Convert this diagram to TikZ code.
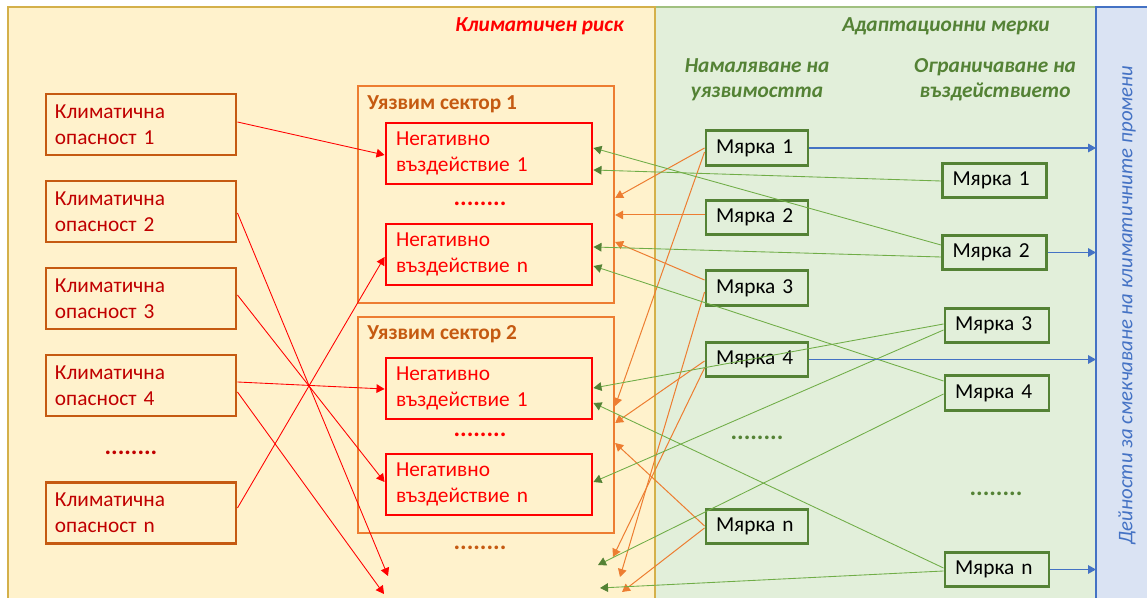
\documentclass[tikz,border=0pt]{standalone}
\usepackage{fontspec}
\setmainfont{Carlito}
\usetikzlibrary{arrows.meta,calc}
\definecolor{ybg}{HTML}{FFF2CC}
\definecolor{yln}{HTML}{D4B04A}
\definecolor{gbg}{HTML}{E2EFDA}
\definecolor{gln}{HTML}{A0C080}
\definecolor{bbg}{HTML}{DAE3F3}
\definecolor{bln}{HTML}{4472C4}
\definecolor{dred}{HTML}{C00000}
\definecolor{brn}{HTML}{C55A11}
\definecolor{orn}{HTML}{ED7D31}
\definecolor{dgrn}{HTML}{548235}
\definecolor{lgrn}{HTML}{70AD47}
\definecolor{cred}{HTML}{FF0000}
\tikzset{
  bodyfont/.style={font=\fontsize{16}{19.5}\selectfont},
  hazard/.style={draw=brn, line width=2.2pt, bodyfont, text=dred, align=left,
    text width=129pt, inner xsep=6.75pt, inner ysep=0pt, minimum height=45.75pt},
  sector/.style={draw=orn, line width=1.7pt, minimum width=192pt, inner sep=0pt},
  sectitle/.style={text=brn, font=\fontsize{16}{18}\selectfont\bfseries, inner sep=0pt, anchor=west},
  neg/.style={draw=cred, line width=2.2pt, bodyfont, text=cred, align=left,
    text width=139.5pt, inner xsep=7.5pt, inner ysep=0pt, minimum height=45.75pt},
  meas/.style={draw=dgrn, line width=2.2pt, bodyfont, text=black, align=left,
    text width=61.5pt, inner xsep=7.5pt, inner ysep=0pt, minimum height=25.9pt},
  measR/.style={meas, text width=63pt},
  dots/.style={font=\fontsize{18.5}{20}\selectfont\bfseries, inner sep=0pt},
  heading/.style={font=\fontsize{16}{18.75}\selectfont\bfseries\itshape, align=center, inner sep=0pt},
  tip/.style={-{Triangle[length=6pt,width=6.5pt]}},
  rl/.style={cred, line width=0.65pt, tip},
  ol/.style={orn, line width=0.75pt, tip},
  gl/.style={lgrn, line width=0.65pt, -{Triangle[length=6pt,width=6.5pt,color=dgrn]}},
  bl/.style={bln, line width=0.8pt, tip},
}
\begin{document}
\begin{tikzpicture}[x=0.75pt,y=-0.75pt]
\useasboundingbox (0,0) rectangle (1147,598);
\clip (0,0) rectangle (1147,598);
% background panels
\filldraw[fill=gbg, draw=gln, line width=1pt] (655,7) rectangle (1096,620);
\filldraw[fill=bbg, draw=bln, line width=1pt] (1096,7) rectangle (1170,620);
\filldraw[fill=ybg, draw=yln, line width=1.2pt] (8,7) rectangle (655,620);

% titles
\node[heading, text=cred, anchor=east] (tr) at (624,26) {Климатичен риск};
\node[heading, text=dgrn] (ta) at (946,26) {Адаптационни мерки};
\node[heading, text=dgrn] (tv) at (757,80) {Намаляване на\\уязвимостта};
\node[heading, text=dgrn] (ti) at (995,80) {Ограничаване на\\въздействието};
\node[rotate=90, text=bln, font=\fontsize{15.6}{18}\selectfont\itshape, inner sep=0pt] (act) at (1127,305)
  {Дейности за смекчаване на климатичните промени};

% hazards
\node[hazard] (h1) at (141,124.5) {Климатична\\опасност 1};
\node[hazard] (h2) at (141,211.5) {Климатична\\опасност 2};
\node[hazard] (h3) at (141,298.5) {Климатична\\опасност 3};
\node[hazard] (h4) at (141,385.5) {Климатична\\опасност 4};
\node[hazard] (hn) at (141,513) {Климатична\\опасност n};
\node[dots, text=dred] (hd) at (131,453) {........};

% sectors
\node[sector, minimum height=162.75pt] (s1) at (486,194.5) {};
\node[sector, minimum height=162pt] (s2) at (486,425) {};
\node[sectitle] (st1) at (367,104) {Уязвим сектор 1};
\node[sectitle] (st2) at (367,334) {Уязвим сектор 2};

% negative impacts
\node[neg] (n11) at (489,153.5) {Негативно\\въздействие 1};
\node[neg] (n1n) at (489,254.5) {Негативно\\въздействие n};
\node[neg] (n21) at (489,388.5) {Негативно\\въздействие 1};
\node[neg] (n2n) at (489,484.5) {Негативно\\въздействие n};
\node[dots, text=cred] (d1) at (480,204) {........};
\node[dots, text=cred] (d2) at (480,435) {........};
\node[dots, text=brn] (d3) at (480,548) {........};

% measures: vulnerability
\node[meas] (l1) at (757,148) {Мярка 1};
\node[meas] (l2) at (757,217.5) {Мярка 2};
\node[meas] (l3) at (757,288) {Мярка 3};
\node[meas] (l4) at (757,359.5) {Мярка 4};
\node[meas] (ln) at (757,526.5) {Мярка n};
\node[dots, text=dgrn] (gd1) at (757,438) {........};

% measures: impact
\node[measR] (r1) at (994.5,180.5) {Мярка 1};
\node[measR] (r2) at (994.5,252.5) {Мярка 2};
\node[measR] (r3) at (997,325.5) {Мярка 3};
\node[measR] (r4) at (997,393) {Мярка 4};
\node[measR] (rn) at (997,569.5) {Мярка n};
\node[dots, text=dgrn] (gd2) at (996,494) {........};

% free ends
\coordinate (rA) at (388,576);
\coordinate (rB) at (384,594);
\coordinate (oA) at (613,557);
\coordinate (oB) at (620,577);
\coordinate (oC) at (622,592);
\coordinate (gA) at (598,565);
\coordinate (gB) at (600,588);
\coordinate (b1) at (1096,148);
\coordinate (b2) at (1096,252.5);
\coordinate (b3) at (1096,359.5);
\coordinate (b4) at (1096,569.5);

% red connectors
\draw[rl] (h1.east |- 0,122) -- (n11.west |- 0,155);
\draw[rl] (h2.east |- 0,213) -- (rA);
\draw[rl] (h3.east |- 0,295) -- (n2n.west |- 0,482);
\draw[rl] (h4.east |- 0,382) -- (n21.west |- 0,389);
\draw[rl] (h4.east |- 0,392) -- (rB);
\draw[rl] (hn.east |- 0,508) -- (n1n.west |- 0,257);

% orange connectors
\draw[ol] (l1.west |- 0,148) -- (s1.east |- 0,198);
\draw[ol] (l2.west |- 0,215) -- (s1.east |- 0,215);
\draw[ol] (l3.west |- 0,280) -- (s1.east |- 0,242);
\draw[ol] (l1.west |- 0,152) -- (s2.east |- 0,406);
\draw[ol] (l4.west |- 0,361) -- (s2.east |- 0,423);
\draw[ol] (ln.west |- 0,526) -- (s2.east |- 0,443);
\draw[ol] (l4.west |- 0,368) -- (oA);
\draw[ol] (l3.west |- 0,292) -- (oB);
\draw[ol] (ln.west |- 0,528) -- (oC);

% green connectors
\draw[gl] (r2.west |- 0,245) -- (n11.east |- 0,148);
\draw[gl] (r1.west |- 0,181) -- (n11.east |- 0,170);
\draw[gl] (r2.west |- 0,257) -- (n1n.east |- 0,247);
\draw[gl] (r4.west |- 0,381) -- (n1n.east |- 0,266);
\draw[gl] (r3.west |- 0,324) -- (n21.east |- 0,388);
\draw[gl] (rn.west |- 0,568) -- (n21.east |- 0,403);
\draw[gl] (r3.west |- 0,330) -- (n2n.east |- 0,482);
\draw[gl] (r4.west |- 0,394) -- (gA);
\draw[gl] (rn.west |- 0,571) -- (gB);

% blue connectors
\draw[bl] (l1.east) -- (b1);
\draw[bl] (r2.east) -- (b2);
\draw[bl] (l4.east) -- (b3);
\draw[bl] (rn.east) -- (b4);
\end{tikzpicture}
\end{document}
